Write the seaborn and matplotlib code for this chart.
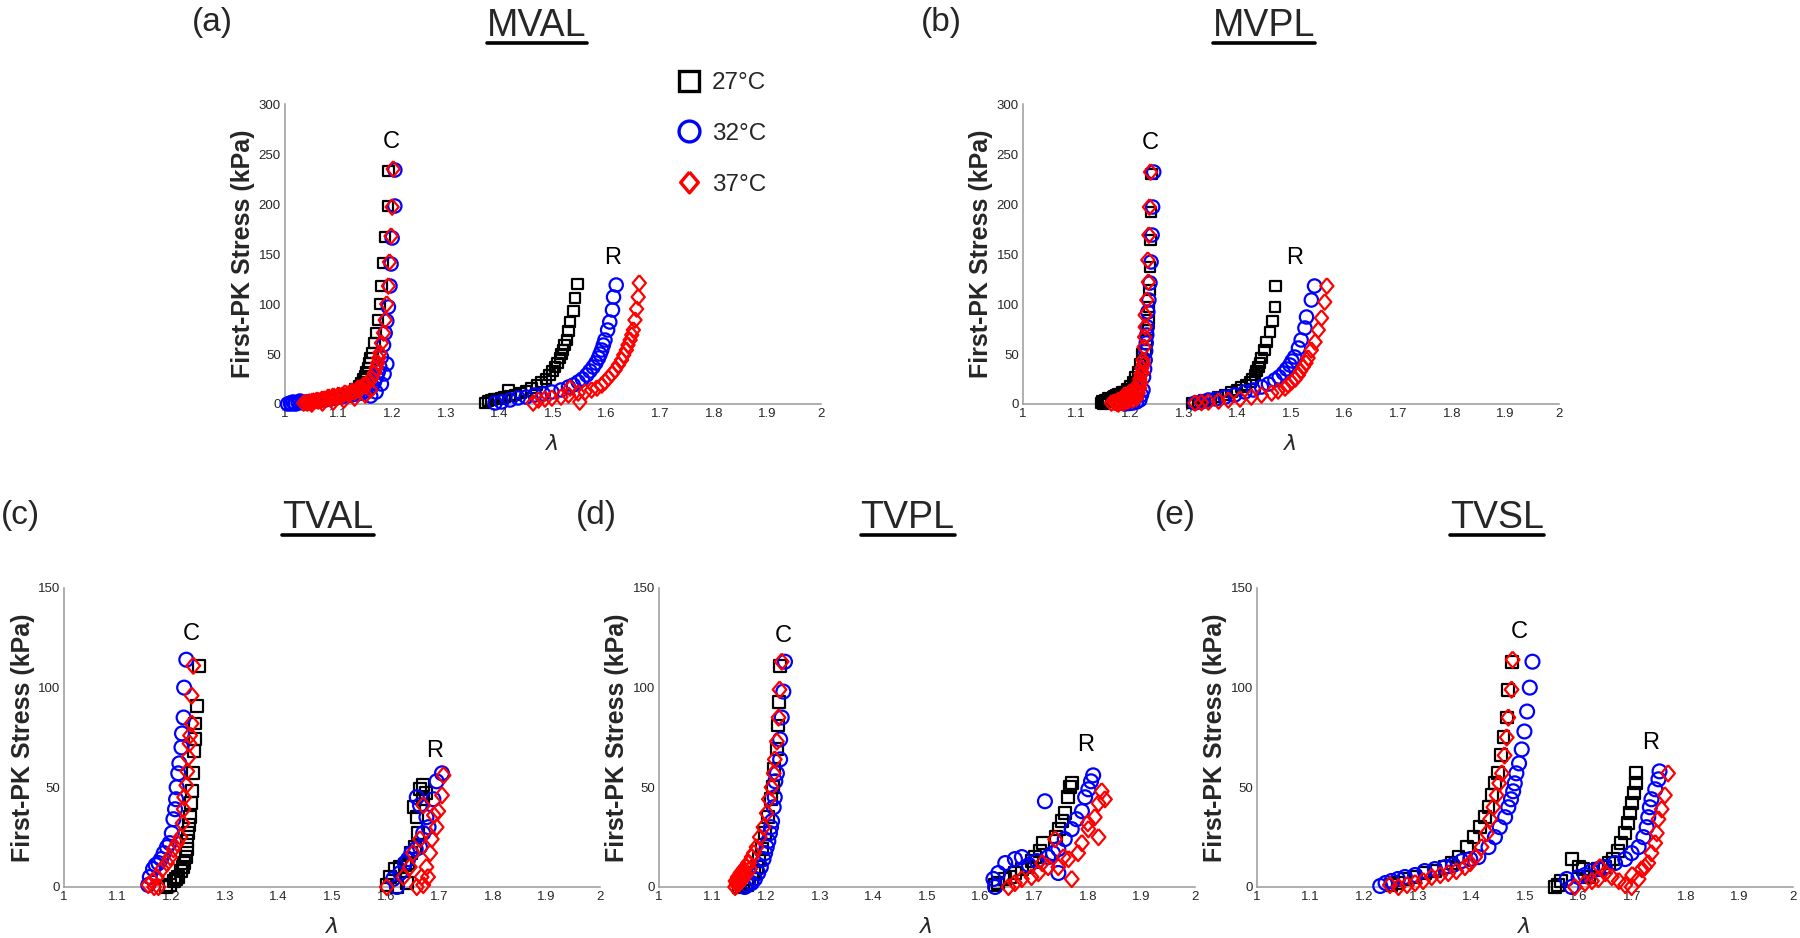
import matplotlib
matplotlib.use('Agg')
import pandas as pd
import matplotlib.pyplot as plt
from matplotlib.lines import Line2D
import seaborn as sns


# Temperatures and panels
temps = ['27°C', '32°C', '37°C']
panels = ['MVAL', 'MVPL', 'TVAL', 'TVPL', 'TVSL']
panel_tags = ['(a)', '(b)', '(c)', '(d)', '(e)']
xticks = [1, 1.1, 1.2, 1.3, 1.4, 1.5, 1.6, 1.7, 1.8, 1.9, 2]
xtick_labels = ['1', '1.1', '1.2', '1.3', '1.4', '1.5', '1.6', '1.7', '1.8', '1.9', '2']
yticks_mv = [0, 50, 100, 150, 200, 250, 300]
yticks_tv = [0, 50, 100, 150]

# Stretch (lambda) and first-PK stress (kPa); circumferential (C) points first, radial (R) after
mval_27_lam = [1.193, 1.192, 1.187, 1.183, 1.180, 1.177, 1.174, 1.170, 1.167, 1.163, 1.160, 1.158, 1.155, 1.152,
               1.149, 1.146, 1.142, 1.138, 1.132, 1.125, 1.115, 1.105, 1.095, 1.085, 1.075, 1.065, 1.055, 1.045, 1.035,
               1.546, 1.541, 1.538, 1.532, 1.529, 1.526, 1.522, 1.519, 1.516, 1.513, 1.508, 1.504, 1.499, 1.494,
               1.487, 1.479, 1.470, 1.460, 1.450, 1.440, 1.430, 1.420, 1.417, 1.410, 1.404, 1.397, 1.390, 1.385, 1.379, 1.373]
mval_27_kpa = [233, 198, 167, 141, 118, 100, 84, 71, 61, 51, 46, 41, 36, 32,
               28, 25, 21, 18, 15, 12, 10, 8, 6, 5, 4, 3, 2.5, 2, 1,
               120, 106, 93, 82, 73, 64, 59, 54, 50, 46, 41, 37, 33, 29,
               25, 22, 19, 16, 13, 11, 9, 8, 14, 7, 6, 5, 5, 4, 3, 1]
mval_32_lam = [1.205, 1.205, 1.200, 1.198, 1.196, 1.193, 1.190, 1.187, 1.184, 1.180, 1.177, 1.174, 1.171, 1.167,
               1.163, 1.157, 1.150, 1.143, 1.135, 1.125, 1.115, 1.105, 1.095, 1.085, 1.075, 1.065, 1.055, 1.047,
               1.040, 1.032, 1.025, 1.018, 1.012, 1.005, 1.010, 1.015, 1.020, 1.028, 1.035,
               1.160, 1.170, 1.180, 1.185, 1.190,
               1.618, 1.613, 1.611, 1.606, 1.602, 1.597, 1.594, 1.591, 1.588, 1.585, 1.580, 1.575, 1.569, 1.563,
               1.555, 1.547, 1.538, 1.529, 1.515, 1.498, 1.482, 1.466, 1.450, 1.435, 1.420, 1.404, 1.392]
mval_32_kpa = [234, 198, 166, 140, 118, 97, 83, 71, 59, 47, 37, 32, 27, 22,
               18, 15, 13, 11, 10, 9, 8, 7, 6, 5, 4, 3.5, 3, 2.5,
               2, 1.5, 1, 0.5, 0, 0, 1, 2, 0, 3, 1,
               8, 12, 20, 30, 40,
               119, 107, 94, 82, 74, 64, 59, 54, 50, 46, 41, 37, 33, 29,
               25, 22, 19, 17, 14, 12, 10, 9, 7, 6, 4, 2, 1]
mval_37_lam = [1.202, 1.200, 1.198, 1.195, 1.193, 1.190, 1.187, 1.184, 1.180, 1.177, 1.175, 1.173, 1.170, 1.167,
               1.162, 1.156, 1.147, 1.137, 1.125, 1.112, 1.100, 1.090, 1.081, 1.070, 1.060, 1.052, 1.045, 1.040, 1.035,
               1.042, 1.048, 1.055, 1.062, 1.068, 1.075, 1.082, 1.088, 1.095, 1.102, 1.108, 1.118, 1.122, 1.130,
               1.135, 1.142, 1.148, 1.152, 1.158, 1.050, 1.070, 1.090, 1.110, 1.130, 1.150, 1.160,
               1.661, 1.659, 1.656, 1.653, 1.650, 1.647, 1.644, 1.640, 1.637, 1.632, 1.628, 1.622, 1.616, 1.610,
               1.603, 1.597, 1.591, 1.582, 1.572, 1.560, 1.550, 1.547, 1.532, 1.529, 1.515, 1.498, 1.485, 1.473, 1.463]
mval_37_kpa = [235, 197, 168, 142, 118, 100, 84, 71, 61, 51, 46, 41, 36, 31,
               26, 22, 19, 16, 13, 11, 9, 8, 7, 5, 4, 3, 2, 1.5, 1,
               1, 2, 3, 3, 4, 5, 6, 6, 7, 8, 9, 10, 11, 12,
               14, 16, 18, 20, 23, 0, 1, 2, 4, 6, 9, 14,
               121, 107, 95, 84, 74, 69, 64, 59, 54, 49, 44, 39, 34, 30,
               26, 22, 19, 16, 14, 12, 2, 11, 16, 9, 7, 6, 5, 4, 1]

mvpl_27_lam = [1.240, 1.239, 1.238, 1.237, 1.236, 1.235, 1.234, 1.233, 1.231, 1.229, 1.226, 1.222, 1.216, 1.210,
               1.205, 1.198, 1.190, 1.182, 1.175, 1.168, 1.160, 1.153, 1.148, 1.147,
               1.150, 1.155, 1.160, 1.165, 1.170, 1.178, 1.185, 1.195, 1.200, 1.205, 1.210, 1.215, 1.218, 1.222,
               1.471, 1.470, 1.466, 1.461, 1.454, 1.451, 1.445, 1.442, 1.439, 1.436, 1.433, 1.428, 1.424, 1.416,
               1.408, 1.399, 1.389, 1.377, 1.364, 1.351, 1.339, 1.327, 1.315]
mvpl_27_kpa = [230, 192, 164, 137, 114, 97, 84, 74, 64, 54, 44, 34, 24, 20,
               17, 14, 12, 10, 9, 7, 6, 4, 3, 1,
               0, 2, 5, 3, 8, 10, 12, 15, 18, 22, 27, 32, 40, 50,
               118, 97, 83, 72, 62, 54, 46, 41, 37, 33, 29, 25, 22, 19,
               17, 14, 12, 9, 7, 5, 4, 2, 1]
mvpl_32_lam = [1.244, 1.242, 1.241, 1.239, 1.237, 1.235, 1.233, 1.232, 1.231, 1.230, 1.229, 1.228, 1.227, 1.225,
               1.224, 1.221, 1.218, 1.212, 1.205, 1.198, 1.190,
               1.544, 1.538, 1.529, 1.526, 1.519, 1.514, 1.507, 1.502, 1.498, 1.492, 1.486, 1.478, 1.470, 1.458,
               1.445, 1.430, 1.414, 1.395, 1.377, 1.360, 1.346, 1.333, 1.321]
mvpl_32_kpa = [232, 197, 169, 142, 121, 104, 92, 77, 69, 61, 53, 44, 35, 27,
               14, 9, 4, 2, 1, 0.5, 0,
               118, 104, 87, 76, 64, 56, 47, 43, 39, 35, 31, 27, 24, 20,
               17, 14, 12, 9, 7, 5, 4, 2, 1]
mvpl_37_lam = [1.238, 1.236, 1.235, 1.233, 1.234, 1.231, 1.228, 1.228, 1.227, 1.226, 1.224, 1.223, 1.220, 1.218,
               1.215, 1.207, 1.197, 1.188, 1.178, 1.170, 1.165, 1.175, 1.185, 1.195, 1.205, 1.212,
               1.172, 1.178, 1.182, 1.188, 1.192, 1.198, 1.202, 1.208, 1.212, 1.215, 1.218, 1.220, 1.222, 1.225,
               1.200, 1.190,
               1.567, 1.563, 1.557, 1.551, 1.545, 1.538, 1.532, 1.528, 1.523, 1.518, 1.514, 1.508, 1.501, 1.495,
               1.489, 1.476, 1.464, 1.445, 1.426, 1.405, 1.383, 1.365, 1.346, 1.333, 1.321]
mvpl_37_kpa = [232, 197, 169, 144, 122, 104, 89, 77, 67, 57, 44, 31, 21, 16,
               11, 9, 7, 5, 4, 2, 1, 1, 2, 3, 4, 6,
               2, 0, 3, 1, 6, 4, 10, 8, 14, 20, 25, 30, 36, 40,
               12, 9,
               118, 102, 86, 74, 62, 54, 46, 41, 37, 33, 29, 25, 22, 19,
               16, 13, 11, 9, 7, 5, 4, 3, 2, 1.5, 1]

tval_27_lam = [1.251, 1.248, 1.244, 1.244, 1.242, 1.240, 1.238, 1.237, 1.235, 1.233, 1.232, 1.230, 1.229, 1.227,
               1.224, 1.221, 1.218, 1.213, 1.209, 1.205, 1.198, 1.190,
               1.675, 1.670, 1.664, 1.670, 1.652, 1.658, 1.661, 1.655, 1.648, 1.642, 1.636, 1.627, 1.617, 1.608,
               1.602, 1.621, 1.639]
tval_27_kpa = [111, 91, 82, 74, 68, 57, 48, 42, 35, 31, 27, 23, 19, 15,
               12, 10, 8, 5, 4, 3, 1, 0,
               47, 51, 49, 44, 40, 35, 27, 20, 17, 12, 11, 10, 9, 5,
               1, 0, 2]
tval_32_lam = [1.228, 1.224, 1.223, 1.220, 1.219, 1.215, 1.213, 1.210, 1.209, 1.207, 1.204, 1.201, 1.197, 1.192,
               1.186, 1.181, 1.176, 1.171, 1.166, 1.160, 1.157,
               1.705, 1.695, 1.689, 1.658, 1.664, 1.676, 1.680, 1.670, 1.664, 1.656, 1.648, 1.642, 1.636, 1.627,
               1.614, 1.621]
tval_32_kpa = [114, 100, 85, 77, 70, 62, 57, 50, 44, 39, 34, 27, 22, 20,
               17, 14, 12, 11, 9, 5, 1,
               57, 53, 44, 45, 41, 35, 30, 27, 20, 19, 17, 14, 12, 7,
               4, 0]
tval_37_lam = [1.241, 1.238, 1.238, 1.235, 1.234, 1.232, 1.230, 1.228, 1.224, 1.223, 1.221, 1.217, 1.211, 1.204,
               1.198, 1.192, 1.183, 1.173, 1.165, 1.157, 1.176, 1.168,
               1.708, 1.705, 1.698, 1.670, 1.695, 1.686, 1.683, 1.676, 1.667, 1.679, 1.670, 1.658, 1.602, 1.633,
               1.651, 1.664, 1.645, 1.690]
tval_37_kpa = [111, 96, 82, 76, 72, 65, 58, 51, 45, 39, 32, 25, 22, 19,
               15, 12, 9, 5, 3, 1, 0, 0,
               56, 46, 38, 41, 30, 24, 17, 10, 5, 5, 1, 0, 0, 5,
               17, 24, 10, 36]

tvpl_27_lam = [1.226, 1.224, 1.222, 1.220, 1.214, 1.212, 1.209, 1.204, 1.198, 1.192, 1.187, 1.182, 1.177, 1.173,
               1.168, 1.164, 1.157, 1.150,
               1.770, 1.767, 1.763, 1.758, 1.752, 1.746, 1.740, 1.717, 1.710, 1.702, 1.695, 1.689, 1.677, 1.664,
               1.655, 1.646, 1.633, 1.627]
tvpl_27_kpa = [111, 93, 81, 69, 59, 50, 44, 35, 27, 19, 14, 10, 7, 4,
               2, 1, 0.5, 0,
               52, 50, 45, 37, 33, 29, 25, 22, 18, 15, 13, 10, 9, 7,
               5, 4, 2, 1]
tvpl_32_lam = [1.235, 1.232, 1.229, 1.226, 1.226, 1.220, 1.217, 1.216, 1.214, 1.211, 1.209, 1.207, 1.204, 1.201,
               1.198, 1.195, 1.190, 1.185, 1.179, 1.173, 1.166, 1.160,
               1.810, 1.806, 1.801, 1.795, 1.789, 1.779, 1.770, 1.720, 1.757, 1.745, 1.726, 1.705, 1.677, 1.664,
               1.646, 1.745, 1.633, 1.624, 1.627, 1.690, 1.735]
tvpl_32_kpa = [113, 98, 85, 74, 64, 57, 53, 45, 40, 33, 30, 27, 23, 20,
               17, 14, 10, 7, 4, 2, 1, 0,
               56, 53, 49, 45, 38, 34, 29, 43, 24, 19, 15, 13, 15, 14,
               12, 7, 7, 4, 0, 11, 17]
tvpl_37_lam = [1.229, 1.225, 1.223, 1.220, 1.216, 1.214, 1.210, 1.205, 1.201, 1.195, 1.188, 1.182, 1.177, 1.173,
               1.168, 1.163, 1.158, 1.154, 1.150, 1.148, 1.145, 1.146, 1.142, 1.152,
               1.143, 1.147, 1.150, 1.152, 1.156, 1.158, 1.162, 1.166, 1.170,
               1.826, 1.832, 1.820, 1.813, 1.820, 1.801, 1.789, 1.782, 1.770, 1.764, 1.739, 1.745, 1.726, 1.708,
               1.695, 1.677, 1.664, 1.652, 1.755, 1.715, 1.800]
tvpl_37_kpa = [113, 99, 85, 73, 64, 57, 50, 44, 37, 30, 25, 20, 17, 15,
               12, 10, 8, 5, 4, 3, 2, 1, 0, 6,
               3, 5, 2, 7, 4, 9, 6, 12, 9,
               48, 44, 42, 35, 25, 29, 22, 17, 4, 14, 24, 10, 10, 7,
               5, 4, 2, 0, 15, 12, 32]

tvsl_27_lam = [1.475, 1.469, 1.466, 1.460, 1.455, 1.449, 1.444, 1.438, 1.432, 1.425, 1.416, 1.404, 1.391, 1.376,
               1.363, 1.351, 1.332, 1.313, 1.295, 1.276, 1.263, 1.251,
               1.708, 1.707, 1.704, 1.699, 1.696, 1.692, 1.687, 1.680, 1.673, 1.665, 1.657, 1.649, 1.637, 1.620,
               1.609, 1.600, 1.587, 1.568, 1.562, 1.556]
tvsl_27_kpa = [113, 99, 85, 75, 66, 57, 52, 46, 40, 35, 30, 25, 20, 15,
               12, 10, 8, 7, 5, 4, 2, 1,
               57, 52, 47, 42, 37, 32, 27, 22, 18, 14, 12, 10, 9, 5,
               9, 10, 14, 3, 1, 0]
tvsl_32_lam = [1.514, 1.509, 1.504, 1.499, 1.494, 1.489, 1.484, 1.481, 1.478, 1.474, 1.469, 1.463, 1.453, 1.444,
               1.432, 1.413, 1.398, 1.382, 1.366, 1.351, 1.332, 1.313, 1.295, 1.276, 1.263, 1.251, 1.240, 1.230,
               1.751, 1.749, 1.743, 1.736, 1.733, 1.730, 1.727, 1.721, 1.712, 1.699, 1.687, 1.668, 1.649, 1.637,
               1.624, 1.612, 1.600, 1.578, 1.587]
tvsl_32_kpa = [113, 100, 88, 78, 69, 62, 57, 52, 48, 44, 40, 35, 30, 25,
               20, 15, 14, 13, 11, 10, 9, 8, 6, 5, 4, 3, 2, 0.5,
               58, 54, 49, 44, 40, 35, 30, 25, 20, 17, 14, 12, 10, 9,
               8, 6, 5, 4, 0]
tvsl_37_lam = [1.477, 1.475, 1.469, 1.466, 1.462, 1.457, 1.452, 1.447, 1.441, 1.435, 1.429, 1.419, 1.407, 1.398,
               1.388, 1.372, 1.357, 1.342, 1.326, 1.310, 1.295, 1.280, 1.264, 1.248,
               1.767, 1.761, 1.755, 1.749, 1.746, 1.743, 1.736, 1.730, 1.724, 1.718, 1.712, 1.700, 1.687, 1.640,
               1.662, 1.650, 1.637, 1.625, 1.612, 1.593, 1.699, 1.675]
tvsl_37_kpa = [114, 99, 85, 75, 66, 57, 52, 46, 40, 34, 27, 20, 15, 12,
               10, 8, 7, 6, 5, 3, 2, 1, 0, 1,
               57, 46, 39, 34, 27, 22, 17, 12, 10, 9, 4, 6, 1, 10,
               5, 7, 4, 3, 2, 0, 0, 3]

series = {
    ('MVAL', '27°C'): (mval_27_lam, mval_27_kpa),
    ('MVAL', '32°C'): (mval_32_lam, mval_32_kpa),
    ('MVAL', '37°C'): (mval_37_lam, mval_37_kpa),
    ('MVPL', '27°C'): (mvpl_27_lam, mvpl_27_kpa),
    ('MVPL', '32°C'): (mvpl_32_lam, mvpl_32_kpa),
    ('MVPL', '37°C'): (mvpl_37_lam, mvpl_37_kpa),
    ('TVAL', '27°C'): (tval_27_lam, tval_27_kpa),
    ('TVAL', '32°C'): (tval_32_lam, tval_32_kpa),
    ('TVAL', '37°C'): (tval_37_lam, tval_37_kpa),
    ('TVPL', '27°C'): (tvpl_27_lam, tvpl_27_kpa),
    ('TVPL', '32°C'): (tvpl_32_lam, tvpl_32_kpa),
    ('TVPL', '37°C'): (tvpl_37_lam, tvpl_37_kpa),
    ('TVSL', '27°C'): (tvsl_27_lam, tvsl_27_kpa),
    ('TVSL', '32°C'): (tvsl_32_lam, tvsl_32_kpa),
    ('TVSL', '37°C'): (tvsl_37_lam, tvsl_37_kpa),
}

dfs = []
for (panel, temp), (lam, kpa) in series.items():
    dfs.append(pd.DataFrame({'Panel': panel, 'Temp': temp, 'Stretch': lam, 'Stress': kpa}))
df_tot = pd.concat(dfs, ignore_index=True)


# Plot
sns.set_style("white")
plt.rcParams['font.family'] = ['Liberation Sans', 'DejaVu Sans']

colors = {'27°C': 'black', '32°C': '#0000ff', '37°C': '#ff0000'}
diamond = [(0, 1), (0.85, 0), (0, -1), (-0.85, 0), (0, 1)]
markers = {'27°C': 's', '32°C': 'o', '37°C': diamond}
sizes_top = {'27°C': 58, '32°C': 92, '37°C': 125}
sizes_bot = {'27°C': 74, '32°C': 100, '37°C': 135}

# axes rectangles in figure fraction
ax_rects = {'MVAL': [0.1583, 0.5693, 0.2978, 0.3198],
            'MVPL': [0.5683, 0.5693, 0.2978, 0.3198],
            'TVAL': [0.0356, 0.0544, 0.2978, 0.3188],
            'TVPL': [0.3661, 0.0544, 0.2978, 0.3188],
            'TVSL': [0.6983, 0.0544, 0.2978, 0.3188]}
title_pos = {'MVAL': (0.2983, 0.9616), 'MVPL': (0.7022, 0.9616),
             'TVAL': (0.1822, 0.4371), 'TVPL': (0.5042, 0.4371), 'TVSL': (0.8317, 0.4371)}
tag_pos = {'MVAL': (0.1178, 0.9755), 'MVPL': (0.5228, 0.9755),
           'TVAL': (0.0111, 0.4499), 'TVPL': (0.3311, 0.4499), 'TVSL': (0.6528, 0.4499)}
curve_labels = {'MVAL': [(1.198, 262, 'C'), (1.611, 146, 'R')],
                'MVPL': [(1.237, 261, 'C'), (1.507, 146, 'R')],
                'TVAL': [(1.237, 127, 'C'), (1.692, 68, 'R')],
                'TVPL': [(1.232, 126, 'C'), (1.796, 71, 'R')],
                'TVSL': [(1.489, 128, 'C'), (1.735, 72, 'R')]}

fig = plt.figure(figsize=(18, 9.38), dpi=100)
axis_gray = '#9a9a9a'

titles = []
for panel, tag in zip(panels, panel_tags):
    ax = fig.add_axes(ax_rects[panel])
    top_row = panel.startswith('MV')
    sub = df_tot[df_tot['Panel'] == panel]
    for temp in temps:
        d = sub[sub['Temp'] == temp]
        sns.scatterplot(x='Stretch', y='Stress', data=d, ax=ax,
                        marker=markers[temp],
                        s=(sizes_top if top_row else sizes_bot)[temp],
                        facecolor='none', edgecolor=colors[temp],
                        linewidth=1.6, clip_on=False, legend=False, zorder=3)

    ax.set_xlim(1, 2)
    ax.set_xticks(xticks)
    ax.set_xticklabels(xtick_labels)
    if top_row:
        ax.set_ylim(0, 300)
        ax.set_yticks(yticks_mv)
    else:
        ax.set_ylim(0, 150)
        ax.set_yticks(yticks_tv)

    # Disable the top and right axes
    ax.spines["right"].set_visible(False)
    ax.spines["top"].set_visible(False)
    for sp in ['left', 'bottom']:
        ax.spines[sp].set_color(axis_gray)
        ax.spines[sp].set_linewidth(1.1)

    ax.tick_params(axis='both', which='major', direction='in', length=4, width=1,
                   color=axis_gray, labelsize=9.5, labelcolor='#262626', pad=3)

    ax.set_ylabel('First-PK Stress (kPa)', fontsize=18, fontweight='bold', color='#262626')
    ax.yaxis.set_label_coords(-0.055, 0.5)
    ax.set_xlabel('λ', fontsize=16, fontstyle='italic', family=['DejaVu Sans'], color='#262626')
    ax.xaxis.set_label_coords(0.5, -0.10)

    for lx, ly, txt in curve_labels[panel]:
        ax.text(lx, ly, txt, fontsize=17, ha='center', va='center', color='black')

    t = fig.text(*title_pos[panel], panel, fontsize=27, ha='center', va='baseline')
    titles.append(t)
    fig.text(*tag_pos[panel], tag, fontsize=24, ha='center', va='center')

# Legend
handles = [Line2D([], [], ls='none', marker=markers[t], ms=15, mfc='none',
                  mec=colors[t], mew=2.4) for t in temps]
fig.legend(handles, temps, loc='upper left', bbox_to_anchor=(0.376, 0.9232),
           frameon=False, fontsize=17.5, handlelength=1.0, handletextpad=0.45,
           labelspacing=1.19, borderaxespad=0, borderpad=0)

# Underline the titles
fig.canvas.draw()
inv = fig.transFigure.inverted()
for t in titles:
    bb = t.get_window_extent()
    (x0, y0), (x1, y1) = inv.transform([(bb.x0, bb.y0), (bb.x1, bb.y1)])
    yb = t.get_position()[1] - 7.0 / 938
    fig.add_artist(Line2D([x0, x1], [yb, yb], color='black', lw=2.6,
                          transform=fig.transFigure))

plt.savefig('out.png', dpi=100)
